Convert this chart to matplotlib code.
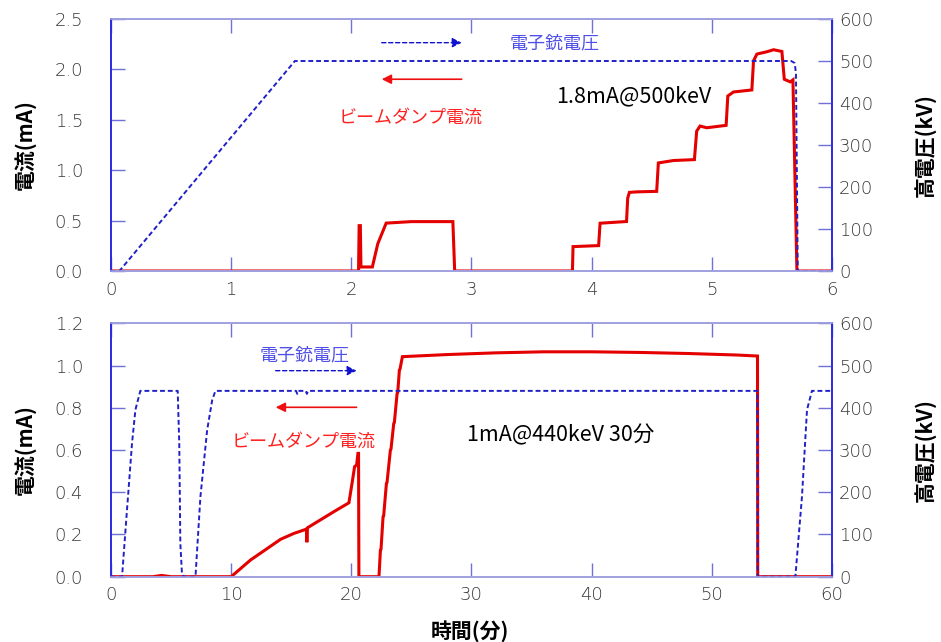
import matplotlib
matplotlib.use("Agg")
import matplotlib.pyplot as plt

plt.rcParams['font.family'] = ['Noto Sans CJK JP', 'DejaVu Sans']

# ---------------- data: top panel (x in arbitrary time units 0-6) ----------------
top_cur_t = [0, 2.06, 2.065, 2.075, 2.08, 2.175, 2.22, 2.29, 2.5, 2.845, 2.86,
             3.84, 3.845, 4.058, 4.07, 4.29, 4.30, 4.314, 4.375, 4.541, 4.555,
             4.68, 4.855, 4.874, 4.902, 4.958, 5.119, 5.133, 5.18, 5.333, 5.347,
             5.375, 5.458, 5.514, 5.583, 5.603, 5.653, 5.675, 5.708, 6.0]
top_cur_i = [0, 0, 0.45, 0.45, 0.04, 0.04, 0.27, 0.475, 0.49, 0.49, 0,
             0, 0.242, 0.252, 0.474, 0.491, 0.724, 0.78, 0.785, 0.790, 1.072,
             1.096, 1.105, 1.388, 1.438, 1.421, 1.445, 1.736, 1.776, 1.796, 2.085,
             2.152, 2.175, 2.195, 2.178, 1.902, 1.876, 1.896, 0, 0]
top_volt_t = [0, 0.07, 1.53, 5.66, 5.69, 5.70, 5.715, 6.0]
top_volt_kv = [0, 0, 500, 500, 495, 470, 0, 0]

# ---------------- data: bottom panel (minutes) ----------------
bot_cur_t = [0, 3.5, 4.2, 5.0, 10.0, 11.61, 14.11, 15.22, 16.05, 16.28, 16.3, 16.33,
             16.36, 18.55, 19.8, 20.08, 20.27, 20.44, 20.55, 20.6, 20.63, 22.3,
             22.42, 22.47, 22.64, 22.69, 22.92, 22.97, 23.25, 23.3, 23.53, 23.58,
             23.81, 23.86, 24.0, 24.05, 24.25, 28, 32, 36,
             40, 44, 48, 52, 53.8, 53.82, 60]
bot_cur_i = [0, 0, 0.006, 0, 0, 0.079, 0.177, 0.205, 0.221, 0.226, 0.163, 0.229,
             0.232, 0.308, 0.350, 0.450, 0.521, 0.529, 0.584, 0.584, 0, 0,
             0.126, 0.130, 0.284, 0.288, 0.442, 0.446, 0.600, 0.604, 0.726, 0.730,
             0.868, 0.872, 0.979, 0.983, 1.042, 1.052, 1.060, 1.065,
             1.065, 1.062, 1.057, 1.050, 1.045, 0, 0]
bot_volt_t = [0, 0.92, 1.33, 1.75, 2.03, 2.44, 5.55, 5.68, 5.77, 5.9, 6.05,
              7.03, 7.44, 8.0, 8.42, 8.69, 15.4, 15.5, 15.6, 16.2, 16.3, 16.4,
              53.8, 53.82, 56.95, 57.5, 57.92, 58.33, 60]
bot_volt_kv = [0, 0, 158, 316, 395, 440, 440, 316, 79, 10, 0,
               0, 189, 347, 418, 440, 440, 433, 440, 440, 433, 440,
               440, 0, 0, 189, 395, 440, 440]

top_xticks = [0, 1, 2, 3, 4, 5, 6]
top_yticks = [0.0, 0.5, 1.0, 1.5, 2.0, 2.5]
bot_xticks = [0, 10, 20, 30, 40, 50, 60]
bot_yticks = [0.0, 0.2, 0.4, 0.6, 0.8, 1.0, 1.2]
kv_ticks = [0, 100, 200, 300, 400, 500, 600]

RED = '#e50000'
BLUE = '#2020c8'
LBLUE = '#5050e8'
SPINE_DARK = '#2a2ae0'
SPINE_LIGHT = '#a0a0e0'
TICKC = '#7070d8'
TXT = '#383838'

fig = plt.figure(figsize=(9.41, 6.42), dpi=100)

def style(ax, ax2, xticks, yticks, xlim, ylim, yfmt):
    ax.set_xlim(*xlim)
    ax.set_ylim(*ylim)
    ax2.set_ylim(0, 600)
    ax.set_xticks(xticks)
    ax.set_yticks(yticks)
    ax.set_yticklabels([yfmt.format(v) for v in yticks])
    ax2.set_yticks(kv_ticks)
    for a in (ax, ax2):
        a.spines['left'].set_color(SPINE_DARK)
        a.spines['right'].set_color(SPINE_DARK)
        a.spines['top'].set_color(SPINE_LIGHT)
        a.spines['bottom'].set_color(SPINE_LIGHT)
        for s in a.spines.values():
            s.set_linewidth(1.2)
    ax.tick_params(axis='x', direction='in', length=10, width=1, color=TICKC,
                   labelsize=13, labelcolor=TXT, pad=7, top=True)
    ax.tick_params(axis='y', direction='in', length=10, width=1, color=TICKC,
                   labelsize=13, labelcolor=TXT, pad=20)
    ax2.tick_params(axis='y', direction='in', length=10, width=1, color=TICKC,
                    labelsize=13, labelcolor=TXT, pad=5)
    for lab in ax.get_xticklabels() + ax.get_yticklabels() + ax2.get_yticklabels():
        lab.set_fontfamily(['DejaVu Sans'])
        lab.set_fontweight('light')

def arrows(ax, x0, x1, yb, yr):
    ax.annotate('', xy=(x1, yb), xytext=(x0, yb), xycoords='axes fraction',
                arrowprops=dict(arrowstyle='-|>', color='#1010d0', lw=1.0,
                                linestyle=(0, (3, 2)), mutation_scale=14,
                                shrinkA=0, shrinkB=0))
    ax.annotate('', xy=(x0, yr), xytext=(x1, yr), xycoords='axes fraction',
                arrowprops=dict(arrowstyle='-|>', color='#ee1010', lw=1.2,
                                mutation_scale=14, shrinkA=0, shrinkB=0))

# ---------- top panel ----------
axT = fig.add_axes([111/941, 1-271/642, 721/941, 252/642])
axT2 = axT.twinx()
axT.plot(top_cur_t, top_cur_i, color=RED, lw=2.2, solid_joinstyle='miter')
axT2.plot(top_volt_t, top_volt_kv, color=BLUE, lw=1.4, linestyle=(0, (2.5, 1.5)))
style(axT, axT2, top_xticks, top_yticks, (0, 6), (0, 2.5), '{:.1f}')
arrows(axT, 0.3755, 0.4864, 0.906, 0.761)
axT.text(0.553, 0.904, '電子銃電圧', transform=axT.transAxes, color=LBLUE,
         fontsize=13, va='center', ha='left')
axT.text(0.315, 0.61, 'ビームダンプ電流', transform=axT.transAxes, color='#ff2020',
         fontsize=13, va='center', ha='left')
axT.text(0.618, 0.692, '1.8mA@500keV', transform=axT.transAxes, color='black',
         fontsize=15.5, va='center', ha='left')

# ---------- bottom panel ----------
axB = fig.add_axes([111/941, 1-576.7/642, 721/941, 253.4/642])
axB2 = axB.twinx()
axB.plot(bot_cur_t, bot_cur_i, color=RED, lw=2.2, solid_joinstyle='miter')
axB2.plot(bot_volt_t, bot_volt_kv, color=BLUE, lw=1.4, linestyle=(0, (2.5, 1.5)))
style(axB, axB2, bot_xticks, bot_yticks, (0, 60), (0, 1.2), '{:.1f}')
arrows(axB, 0.2284, 0.3406, 0.813, 0.6685)
axB.text(0.2067, 0.875, '電子銃電圧', transform=axB.transAxes, color=LBLUE,
         fontsize=13, va='center', ha='left')
axB.text(0.1674, 0.533, 'ビームダンプ電流', transform=axB.transAxes, color='#ff2020',
         fontsize=13, va='center', ha='left')
axB.text(0.4938, 0.559, '1mA@440keV 30分', transform=axB.transAxes, color='black',
         fontsize=15.5, va='center', ha='left')

# ---------- axis titles ----------
for yc in (1-145/642, 1-450/642):
    fig.text(25/941, yc, '電流(mA)', rotation=90, fontsize=15, fontweight='bold',
             ha='center', va='center', color='black')
    fig.text(925/941, yc, '高電圧(kV)', rotation=90, fontsize=15, fontweight='bold',
             ha='center', va='center', color='black')
fig.text(470/941, 1-631/642, '時間(分)', fontsize=15, fontweight='bold',
         ha='center', va='center', color='black')

fig.savefig('out.png', dpi=100)
